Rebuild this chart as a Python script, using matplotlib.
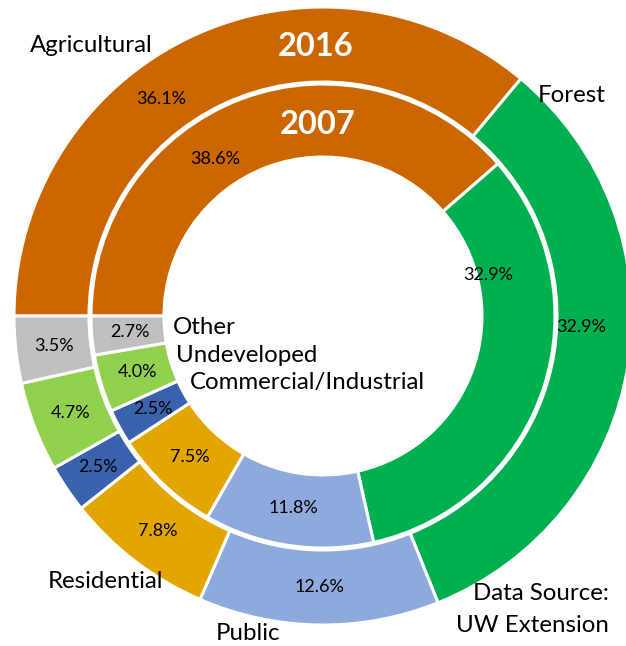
import numpy as np
import matplotlib.pyplot as plt

# Land use shares, clockwise starting at 9 o'clock
categories = ['Agricultural', 'Forest', 'Public', 'Residential',
              'Commercial/Industrial', 'Undeveloped', 'Other']
share_2016 = [36.1, 32.9, 12.6, 7.8, 2.5, 4.7, 3.5]
share_2007 = [38.6, 32.9, 11.8, 7.5, 2.5, 4.0, 2.7]
colors = ['#CC6600', '#00B050', '#8EA9DB', '#E3A600',
          '#3A62AD', '#92D050', '#BFBFBF']

# where along each wedge (0 = start, 1 = end) the value label sits, and how far out
lab_frac_2016 = [0.41, 0.445, 0.5, 0.5, 0.5, 0.5, 0.5]
lab_frac_2007 = [0.40, 0.23, 0.5, 0.5, 0.5, 0.5, 0.5]
lab_r_2016 = [271, 258, 271, 271, 271, 271, 271]
lab_r_2007 = [190, 170, 194, 194, 194, 194, 194]

W, H = 626, 646
fig = plt.figure(figsize=(W / 100, H / 100), dpi=100)
ax = fig.add_axes([0, 0, 1, 1])

cx, cy = 323, H - 316
font = 'Lato'


def ring(values, r_out, width, fracs, radii):
    wedges, _ = ax.pie(values, colors=colors, radius=r_out, center=(cx, cy),
                       startangle=180, counterclock=False, frame=True,
                       wedgeprops=dict(width=width, edgecolor='white', linewidth=2.2))
    for w, v, f, r in zip(wedges, values, fracs, radii):
        # clockwise wedges run from theta2 down to theta1
        ang = np.deg2rad(w.theta2 - f * (w.theta2 - w.theta1))
        ax.text(cx + r * np.cos(ang), cy + r * np.sin(ang), f'{v:.1f}%',
                ha='center', va='center', fontsize=13, family=font, color='black')


ring(share_2016, 309, 75, lab_frac_2016, lab_r_2016)
ring(share_2007, 232, 73, lab_frac_2007, lab_r_2007)
ax.set_xlim(0, W)
ax.set_ylim(0, H)
ax.set_aspect('equal')
ax.axis('off')

# Ring titles
ax.text(316, H - 47, '2016', ha='center', va='center', fontsize=23.5,
        fontweight='bold', family=font, color='white')
ax.text(318, H - 125, '2007', ha='center', va='center', fontsize=23.5,
        fontweight='bold', family=font, color='white')

# Category names
lab = dict(fontsize=17.3, family=font, color='black', va='center')
ax.text(91, H - 45, 'Agricultural', ha='center', **lab)
ax.text(572, H - 95, 'Forest', ha='center', **lab)
ax.text(173, H - 327, 'Other', ha='left', **lab)
ax.text(176, H - 355, 'Undeveloped', ha='left', **lab)
ax.text(190, H - 383, 'Commercial/Industrial', ha='left', **lab)
ax.text(105, H - 582, 'Residential', ha='center', **lab)
ax.text(248, H - 633, 'Public', ha='center', **lab)
ax.text(609, H - 594, 'Data Source:', ha='right', **lab)
ax.text(609, H - 625, 'UW Extension', ha='right', **lab)

fig.savefig('out.png', dpi=100)
